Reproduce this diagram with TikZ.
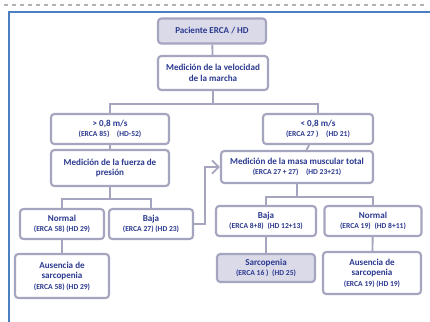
\documentclass[tikz,border=0pt]{standalone}
\usepackage{fontspec}
\setmainfont{Carlito}
\usepackage{xcolor}
\usetikzlibrary{arrows.meta, positioning}
\definecolor{textblue}{HTML}{2B3990}
\definecolor{boxline}{HTML}{A5A5C0}
\definecolor{boxfill}{HTML}{DADAE8}
\definecolor{frameblue}{HTML}{4A7FC1}
\newcommand{\cnt}{\fontsize{5.7}{6.6}\selectfont}

\begin{document}
\begin{tikzpicture}[x=0.75pt, y=-0.75pt,
  box/.style={rectangle, rounded corners=2.5pt, draw=boxline, line width=1.6pt, fill=white,
    text=textblue, align=center, inner sep=1pt, font=\bfseries\fontsize{6.8}{7.8}\selectfont},
  shaded/.style={box, fill=boxfill},
  conn/.style={boxline, line width=1.4pt}]
  \useasboundingbox (0,0) rectangle (430,322);
  % frame of the slide
  \draw[gray!60, dashed, line width=0.8pt] (4,5) -- (426,5);
  \draw[frameblue, line width=1.6pt] (9,322) -- (9,12) -- (431,12);
  % top
  \node[shaded, minimum width=81pt, minimum height=18.75pt] (pac) at (212,31) {Paciente ERCA / HD};
  \node[box, minimum width=82.5pt, minimum height=25.5pt] (vel) at (213,73) {Medición de la velocidad\\de la marcha};
  \coordinate (j1) at (213,104);
  % left branch
  \node[box, minimum width=88.5pt, minimum height=22.5pt] (mayor) at (110,129) {> 0,8 m/s\\{\cnt (ERCA 85)\quad(HD-52)}};
  \node[box, minimum width=88.5pt, minimum height=27pt] (fuerza) at (110,168) {Medición de la fuerza de\\presión};
  \coordinate (j2) at (110,199);
  \node[box, minimum width=63pt, minimum height=22.5pt] (normL) at (62,224) {Normal\\{\cnt (ERCA 58) (HD 29)}};
  \node[box, minimum width=63pt, minimum height=22.5pt] (bajaL) at (151,224) {Baja\\{\cnt (ERCA 27) (HD 23)}};
  \node[box, minimum width=70.5pt, minimum height=33pt] (ausL) at (62,276) {Ausencia de\\sarcopenia\\{\cnt (ERCA 58) (HD 29)}};
  % right branch
  \node[box, minimum width=82.5pt, minimum height=22.5pt] (menor) at (318,129) {< 0,8 m/s\\{\cnt (ERCA 27 )\quad(HD 21)}};
  \node[box, minimum width=114pt, minimum height=24pt] (masa) at (297,167) {Medición de la masa muscular total\\{\cnt (ERCA 27 + 27)\quad(HD 23+21)}};
  \coordinate (j3) at (297,197);
  \node[box, minimum width=75pt, minimum height=22.5pt] (bajaR) at (266,221) {Baja\\{\cnt (ERCA 8+8)\enspace(HD 12+13)}};
  \node[box, minimum width=72.75pt, minimum height=22.5pt] (normR) at (373,221) {Normal\\{\cnt (ERCA 19)\enspace(HD 8+11)}};
  \node[shaded, minimum width=73.5pt, minimum height=21pt] (sarc) at (266,268) {Sarcopenia\\{\cnt (ERCA 16 )\enspace(HD 25)}};
  \node[box, minimum width=73.5pt, minimum height=31.5pt] (ausR) at (372,273) {Ausencia de\\sarcopenia\\{\cnt (ERCA 19) (HD 19)}};
  % connectors
  \draw[conn] (pac) -- (vel);
  \draw[conn] (vel) -- (j1) -| (mayor);
  \draw[conn] (j1) -| (menor);
  \draw[conn] (mayor) -- (fuerza);
  \draw[conn] (fuerza) -- (j2) -| (normL);
  \draw[conn] (j2) -| (bajaL);
  \draw[conn] (normL) -- (ausL);
  \draw[conn, -{Straight Barb[length=5pt, width=10pt]}] (bajaL.east) -- ++(11,0) |- (masa.west);
  \draw[conn] (menor) -- (masa);
  \draw[conn] (masa) -- (j3) -| (bajaR);
  \draw[conn] (j3) -| (normR);
  \draw[conn] (bajaR) -- (sarc);
  \draw[conn] (normR) -- (ausR);
\end{tikzpicture}
\end{document}
